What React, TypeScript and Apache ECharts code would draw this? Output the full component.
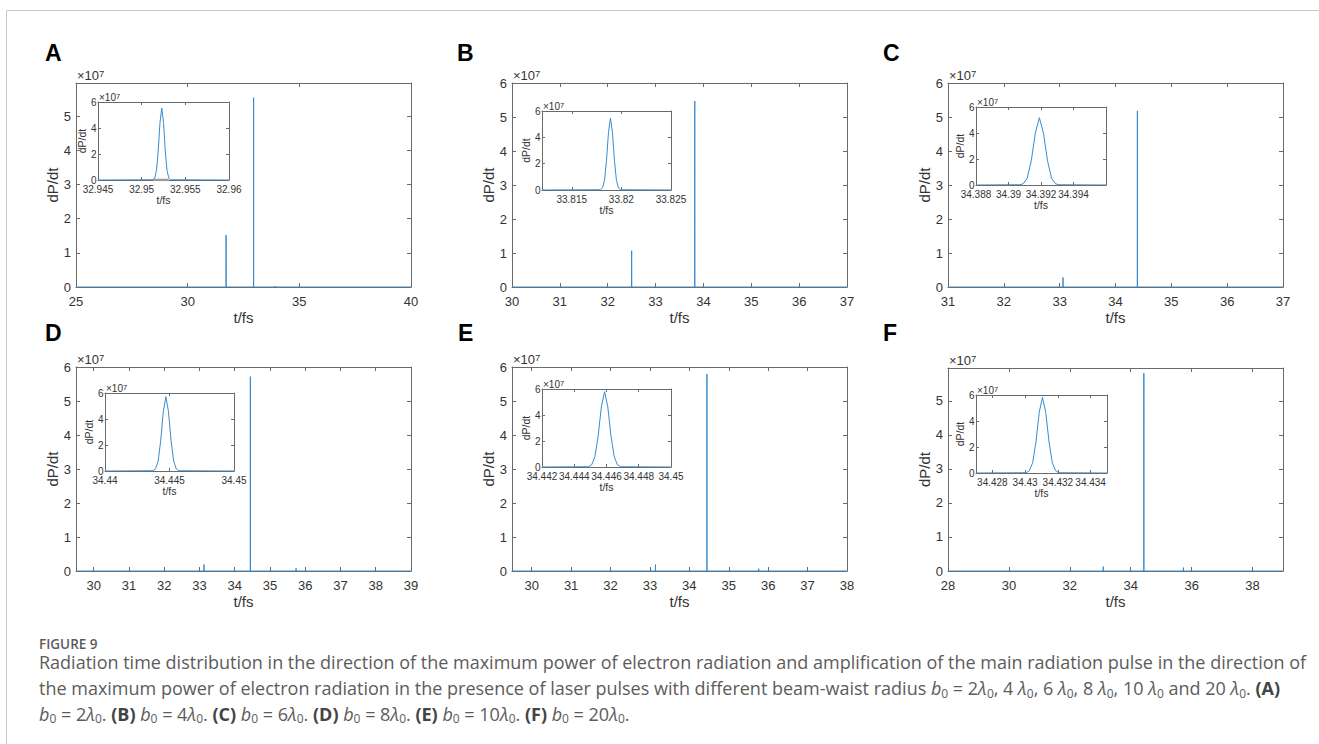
import React, { useEffect, useRef } from "react";
import * as echarts from "echarts";

// ---------------- DATA ----------------
const panelLabels = ["A", "B", "C", "D", "E", "F"];

// main plots (values in units of 1e7)
const mainXMin = [25, 30, 31, 29.5, 29.5, 28];
const mainXMax = [40, 37, 37, 39, 38, 39];
const mainYMax = [5.97, 6, 6, 6, 6, 5.97];
const mainXTicks = [
  [25, 30, 35, 40],
  [30, 31, 32, 33, 34, 35, 36, 37],
  [31, 32, 33, 34, 35, 36, 37],
  [30, 31, 32, 33, 34, 35, 36, 37, 38, 39],
  [30, 31, 32, 33, 34, 35, 36, 37, 38],
  [28, 30, 32, 34, 36, 38],
];
const mainYTicks = [
  [0, 1, 2, 3, 4, 5],
  [0, 1, 2, 3, 4, 5, 6],
  [0, 1, 2, 3, 4, 5, 6],
  [0, 1, 2, 3, 4, 5, 6],
  [0, 1, 2, 3, 4, 5, 6],
  [0, 1, 2, 3, 4, 5],
];
const spikeTimes = [
  [31.72, 32.9523, 33.92],
  [32.5, 33.8189],
  [33.06, 34.3919, 35.69],
  [33.13, 34.4447, 35.74],
  [33.14, 34.4459, 35.76],
  [33.1, 34.4311, 35.73],
];
const spikeHeights = [
  [1.52, 5.54, 0.03],
  [1.07, 5.47],
  [0.28, 5.18, 0.02],
  [0.19, 5.72, 0.08],
  [0.19, 5.79, 0.07],
  [0.13, 5.82, 0.1],
];

// insets
const insetXMin = [32.945, 33.812, 34.388, 34.44, 34.442, 34.427];
const insetXMax = [32.96, 33.825, 34.396, 34.45, 34.45, 34.435];
const insetXTicks = [
  [32.945, 32.95, 32.955, 32.96],
  [33.815, 33.82, 33.825],
  [34.388, 34.39, 34.392, 34.394],
  [34.44, 34.445, 34.45],
  [34.442, 34.444, 34.446, 34.448, 34.45],
  [34.428, 34.43, 34.432, 34.434],
];
const insetYTicks = [0, 2, 4, 6];
const insetYMax = 6;

const insetA_t = [32.945, 32.9513, 32.9515, 32.9517, 32.9519, 32.9521, 32.9523, 32.9525, 32.9527, 32.9529, 32.9531, 32.9533, 32.96];
const insetA_v = [0, 0.02, 0.16, 0.75, 2.27, 4.43, 5.54, 4.43, 2.27, 0.75, 0.16, 0.02, 0];
const insetB_t = [33.812, 33.8179, 33.8181, 33.8183, 33.8185, 33.8187, 33.8189, 33.8191, 33.8193, 33.8195, 33.8197, 33.8199, 33.825];
const insetB_v = [0, 0.02, 0.16, 0.74, 2.24, 4.38, 5.47, 4.38, 2.24, 0.74, 0.16, 0.02, 0];
const insetC_t = [34.388, 34.3907, 34.3909, 34.39115, 34.3914, 34.39165, 34.3919, 34.39215, 34.3924, 34.39265, 34.3929, 34.3931, 34.396];
const insetC_v = [0, 0.02, 0.09, 0.52, 1.86, 3.99, 5.18, 3.99, 1.86, 0.52, 0.09, 0.02, 0];
const insetD_t = [34.44, 34.44372, 34.44392, 34.44412, 34.44432, 34.44452, 34.44472, 34.44492, 34.44512, 34.44532, 34.44552, 34.44572, 34.45];
const insetD_v = [0, 0.02, 0.17, 0.77, 2.35, 4.58, 5.72, 4.58, 2.35, 0.77, 0.17, 0.02, 0];
const insetE_t = [34.442, 34.44488, 34.44508, 34.44528, 34.44548, 34.44568, 34.44588, 34.44608, 34.44628, 34.44648, 34.44668, 34.44688, 34.45];
const insetE_v = [0, 0.02, 0.17, 0.78, 2.37, 4.63, 5.79, 4.63, 2.37, 0.78, 0.17, 0.02, 0];
const insetF_t = [34.427, 34.43006, 34.43026, 34.43046, 34.43066, 34.43086, 34.43106, 34.43126, 34.43146, 34.43166, 34.43186, 34.43206, 34.435];
const insetF_v = [0, 0.02, 0.17, 0.79, 2.38, 4.66, 5.82, 4.66, 2.38, 0.79, 0.17, 0.02, 0];
const insetTimes = [insetA_t, insetB_t, insetC_t, insetD_t, insetE_t, insetF_t];
const insetValues = [insetA_v, insetB_v, insetC_v, insetD_v, insetE_v, insetF_v];
// grey baseline segment under the peak in inset A
const insetA_grey_t = [32.9513, 32.9531];
const insetA_grey_v = [0, 0];

const captionTitle = "FIGURE 9";
const captionLine1 =
  "Radiation time distribution in the direction of the maximum power of electron radiation and amplification of the main radiation pulse in the direction of";
const captionLine2: [string, string][] = [
  ["n", "the maximum power of electron radiation in the presence of laser pulses with different beam-waist radius "],
  ["i", "b"], ["s", "0"], ["n", " = 2"], ["i", "λ"], ["s", "0"],
  ["n", ", 4 "], ["i", "λ"], ["s", "0"],
  ["n", ", 6 "], ["i", "λ"], ["s", "0"],
  ["n", ", 8 "], ["i", "λ"], ["s", "0"],
  ["n", ", 10 "], ["i", "λ"], ["s", "0"],
  ["n", " and 20 "], ["i", "λ"], ["s", "0"],
  ["n", ". "], ["b", "(A)"],
];
const captionLine3: [string, string][] = [
  ["i", "b"], ["s", "0"], ["n", " = 2"], ["i", "λ"], ["s", "0"], ["n", ". "],
  ["b", "(B) "], ["i", "b"], ["s", "0"], ["n", " = 4"], ["i", "λ"], ["s", "0"], ["n", ". "],
  ["b", "(C) "], ["i", "b"], ["s", "0"], ["n", " = 6"], ["i", "λ"], ["s", "0"], ["n", ". "],
  ["b", "(D) "], ["i", "b"], ["s", "0"], ["n", " = 8"], ["i", "λ"], ["s", "0"], ["n", ". "],
  ["b", "(E) "], ["i", "b"], ["s", "0"], ["n", " = 10"], ["i", "λ"], ["s", "0"], ["n", ". "],
  ["b", "(F) "], ["i", "b"], ["s", "0"], ["n", " = 20"], ["i", "λ"], ["s", "0"], ["n", "."],
];

// ---------------- LAYOUT / STYLE ----------------
const FONT = "'Liberation Sans', Arial, Helvetica, sans-serif";
const CAP_FONT = "'Open Sans', 'Noto Sans', sans-serif";
const AX = "#6a6a6a";
const TXT = "#333333";
const LINE = "#3a8bcb";
const CAP_COL = "#5c5c5c";
const mainPos = [
  [76, 83, 335, 204],
  [512, 83, 335, 204],
  [948, 83, 335, 204],
  [76, 367, 335, 204],
  [512, 367, 335, 204],
  [948, 368, 335, 203],
];
const insetPos = [
  [98, 102, 131, 78],
  [542, 111, 129, 79],
  [976, 107, 130, 78],
  [105, 393, 129, 78],
  [542, 389, 129, 78],
  [976, 395, 131, 78],
];
const labelPos = [
  [45, 53.4],
  [457, 53.4],
  [883, 53.4],
  [45, 333.4],
  [458, 333.4],
  [883, 333.4],
];
const MAIN_TICK_FS = 13;
const MAIN_NAME_FS = 15;
const INSET_TICK_FS = 10;
const INSET_NAME_FS = 10.5;

const fmt = (v: number) => String(parseFloat(Number(v).toFixed(4)));

function xAxisDef(gridIndex: number, min: number, max: number, ticks: number[], position: string, labels: boolean, inset: boolean) {
  return {
    type: "value",
    gridIndex,
    min,
    max,
    position,
    axisLine: { show: true, onZero: false, lineStyle: { color: AX, width: 1 } },
    axisTick: { show: true, inside: true, length: inset ? 3 : 4, customValues: ticks, lineStyle: { color: AX, width: 1 } },
    axisLabel: {
      show: labels,
      customValues: ticks,
      fontSize: inset ? INSET_TICK_FS : MAIN_TICK_FS,
      lineHeight: inset ? INSET_TICK_FS : MAIN_TICK_FS + 2,
      color: TXT,
      fontFamily: FONT,
      margin: inset ? 4 : 7,
      formatter: fmt,
    },
    splitLine: { show: false },
    name: labels ? "t/fs" : "",
    nameLocation: "middle",
    nameGap: inset ? 11.5 : 22,
    nameTextStyle: { fontSize: inset ? INSET_NAME_FS : MAIN_NAME_FS, lineHeight: inset ? INSET_NAME_FS : MAIN_NAME_FS, color: TXT, fontFamily: FONT },
  };
}

function yAxisDef(gridIndex: number, max: number, ticks: number[], position: string, labels: boolean, inset: boolean) {
  return {
    type: "value",
    gridIndex,
    min: 0,
    max,
    position,
    axisLine: { show: true, onZero: false, lineStyle: { color: AX, width: 1 } },
    axisTick: { show: true, inside: true, length: inset ? 3 : 4, customValues: ticks, lineStyle: { color: AX, width: 1 } },
    axisLabel: {
      show: labels,
      customValues: ticks,
      fontSize: inset ? INSET_TICK_FS : MAIN_TICK_FS,
      lineHeight: inset ? 8 : MAIN_TICK_FS,
      color: TXT,
      fontFamily: FONT,
      margin: inset ? 1.5 : 5,
      formatter: fmt,
    },
    splitLine: { show: false },
    name: labels ? "dP/dt" : "",
    nameLocation: "middle",
    nameRotate: 90,
    nameGap: inset ? 7 : 15,
    nameTextStyle: { fontSize: inset ? INSET_NAME_FS : MAIN_NAME_FS, lineHeight: inset ? INSET_NAME_FS : MAIN_NAME_FS, color: TXT, fontFamily: FONT },
  };
}

function expText(x: number, y: number, inset: boolean) {
  return {
    type: "text",
    x,
    y,
    z: 50,
    style: {
      text: "{a|×10}{s|7}",
      textAlign: "left",
      textVerticalAlign: "bottom",
      rich: {
        a: { fontSize: inset ? 10 : 13, lineHeight: inset ? 11 : 14, fontFamily: FONT, fill: TXT },
        s: { fontSize: inset ? 7.5 : 9.5, lineHeight: inset ? 7 : 9, fontFamily: FONT, fill: TXT, verticalAlign: "top" },
      },
    },
  };
}

const richCaption = {
  n: { fontSize: 18, lineHeight: 22, fontFamily: CAP_FONT, fill: CAP_COL },
  i: { fontSize: 18, lineHeight: 22, fontFamily: CAP_FONT, fill: CAP_COL, fontStyle: "italic" },
  s: { fontSize: 12, lineHeight: 12, fontFamily: CAP_FONT, fill: CAP_COL, verticalAlign: "bottom" },
  b: { fontSize: 18, lineHeight: 22, fontFamily: CAP_FONT, fill: "#444444", fontWeight: "bold" },
};

function richLine(tokens: [string, string][]) {
  return tokens.map(([k, t]) => `{${k}|${t}}`).join("");
}

function buildOption() {
  const grid: any[] = [];
  const xAxis: any[] = [];
  const yAxis: any[] = [];
  const series: any[] = [];
  const graphic: any[] = [];

  panelLabels.forEach((lab, p) => {
    const [ml, mt, mw, mh] = mainPos[p];
    const [il, it, iw, ih] = insetPos[p];
    grid.push({ left: ml, top: mt, width: mw, height: mh, containLabel: false });
    grid.push({ left: il, top: it, width: iw, height: ih, containLabel: false, show: true, backgroundColor: "#ffffff", borderWidth: 0, z: 3 });

    xAxis.push(xAxisDef(2 * p, mainXMin[p], mainXMax[p], mainXTicks[p], "bottom", true, false));
    xAxis.push(xAxisDef(2 * p, mainXMin[p], mainXMax[p], mainXTicks[p], "top", false, false));
    xAxis.push({ ...xAxisDef(2 * p + 1, insetXMin[p], insetXMax[p], insetXTicks[p], "bottom", true, true), z: 6 });
    xAxis.push({ ...xAxisDef(2 * p + 1, insetXMin[p], insetXMax[p], insetXTicks[p], "top", false, true), z: 6 });

    yAxis.push(yAxisDef(2 * p, mainYMax[p], mainYTicks[p], "left", true, false));
    yAxis.push(yAxisDef(2 * p, mainYMax[p], mainYTicks[p], "right", false, false));
    yAxis.push({ ...yAxisDef(2 * p + 1, insetYMax, insetYTicks, "left", true, true), z: 6 });
    yAxis.push({ ...yAxisDef(2 * p + 1, insetYMax, insetYTicks, "right", false, true), z: 6 });

    // main series: baseline with spikes
    const data: number[][] = [[mainXMin[p], 0]];
    spikeTimes[p].forEach((t, k) => {
      data.push([t - 0.002, 0], [t, spikeHeights[p][k]], [t + 0.002, 0]);
    });
    data.push([mainXMax[p], 0]);
    series.push({
      type: "line",
      xAxisIndex: 4 * p,
      yAxisIndex: 4 * p,
      data,
      showSymbol: false,
      symbol: "none",
      lineStyle: { color: LINE, width: 1 },
      silent: true,
      z: 2,
    });

    if (p === 0) {
      series.push({
        type: "line",
        xAxisIndex: 2,
        yAxisIndex: 2,
        data: insetA_grey_t.map((t, k) => [t, insetA_grey_v[k]]),
        showSymbol: false,
        symbol: "none",
        lineStyle: { color: "#9a9a9a", width: 2.5 },
        silent: true,
        z: 7,
      });
    }
    series.push({
      type: "line",
      xAxisIndex: 4 * p + 2,
      yAxisIndex: 4 * p + 2,
      data: insetTimes[p].map((t, k) => [t, insetValues[p][k]]),
      showSymbol: false,
      symbol: "none",
      lineStyle: { color: LINE, width: 1 },
      silent: true,
      z: 8,
    });

    graphic.push({
      type: "text",
      x: labelPos[p][0],
      y: labelPos[p][1],
      style: {
        text: lab,
        fontSize: 23,
        fontWeight: "bold",
        fontFamily: FONT,
        fill: "#000",
        textAlign: "left",
        textVerticalAlign: "middle",
      },
    });
    graphic.push(expText(ml + 1, mt - 1, false));
    graphic.push(expText(il + 1, it + 1, true));
  });

  // frame lines of the figure box
  graphic.push({ type: "line", shape: { x1: 6.5, y1: 10.5, x2: 1319, y2: 10.5 }, style: { stroke: "#c8c8c8", lineWidth: 1 } });
  graphic.push({ type: "line", shape: { x1: 6.5, y1: 10.5, x2: 6.5, y2: 744 }, style: { stroke: "#c8c8c8", lineWidth: 1 } });

  // caption
  graphic.push({
    type: "text",
    x: 39,
    y: 643.5,
    style: { text: captionTitle, fontSize: 13.5, lineHeight: 12, fontWeight: 600, fontFamily: CAP_FONT, fill: CAP_COL, textAlign: "left", textVerticalAlign: "middle" },
  });
  graphic.push({
    type: "text",
    x: 39,
    y: 662,
    style: { text: captionLine1, fontSize: 18, lineHeight: 18, fontFamily: CAP_FONT, fill: CAP_COL, textAlign: "left", textVerticalAlign: "middle" },
  });
  graphic.push({
    type: "text",
    x: 39,
    y: 688,
    style: { text: richLine(captionLine2), rich: richCaption, textAlign: "left", textVerticalAlign: "middle" },
  });
  graphic.push({
    type: "text",
    x: 39,
    y: 713.5,
    style: { text: richLine(captionLine3), rich: richCaption, textAlign: "left", textVerticalAlign: "middle" },
  });

  return {
    animation: false,
    backgroundColor: "#ffffff",
    grid,
    xAxis,
    yAxis,
    series,
    graphic,
  };
}

export default function App() {
  const ref = useRef<HTMLDivElement>(null);
  useEffect(() => {
    if (!ref.current) return;
    const chart = echarts.init(ref.current, undefined, { renderer: "svg" });
    chart.setOption(buildOption() as any);
    return () => chart.dispose();
  }, []);
  return (
    <div
      ref={ref}
      style={{ position: "fixed", left: 0, top: 0, width: 1319, height: 744, background: "#fff" }}
    />
  );
}
